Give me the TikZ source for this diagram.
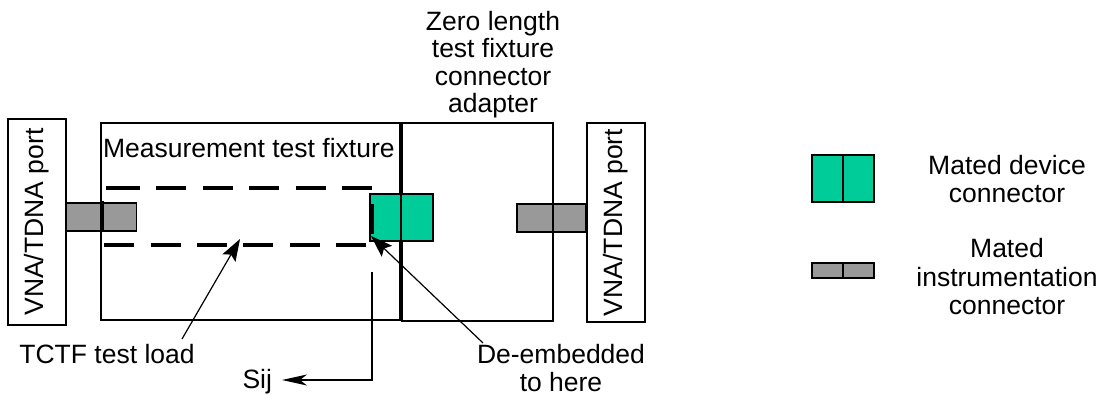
\documentclass[tikz,border=0pt]{standalone}
\usepackage{fontspec}
\setmainfont{Liberation Sans}
\usetikzlibrary{arrows.meta}
\definecolor{devgreen}{HTML}{00CC99}
\definecolor{instgray}{HTML}{999999}
\begin{document}
\begin{tikzpicture}[x=1pt,y=-1pt,
  font=\fontsize{26.5}{27.6}\selectfont,
  box/.style={draw, line width=1.2pt, inner sep=0pt, outer sep=0pt},
  conn/.style={draw, line width=1.4pt, inner sep=0pt, outer sep=0pt},
  txt/.style={inner sep=0pt, outer sep=0pt, align=center},
  divider/.style={line width=1.8pt},
  loadbox/.style={line width=3.2pt, dash pattern=on 30pt off 16.4pt},
  arr/.style={line width=1.2pt, -{Stealth[length=22pt,width=15pt,inset=4pt]}},
  sijarr/.style={line width=1.3pt, -{Stealth[length=25pt,width=11pt,inset=7pt]}}
]
\useasboundingbox (0,0) rectangle (1107,395);
\fill[white] (0,0) rectangle (1107,395);

% main boxes
\node (vnaL) [box, rotate=90, minimum width=206pt, minimum height=58pt] at (37,222) {VNA/TDNA port};
\node (vnaR) [box, rotate=90, minimum width=199pt, minimum height=58pt] at (616,222.5) {VNA/TDNA port};
\node (fixture) [box, minimum width=299pt, minimum height=197pt] at (250.5,221.5) {};
\node (adapter) [box, minimum width=151pt, minimum height=198pt] at (477.5,222) {};
\node (fixlbl) [txt, anchor=base west] at (103,158) {Measurement test fixture};

% connectors
\node (conL) [conn, fill=instgray, minimum width=70pt, minimum height=28pt] at (101.5,217) {};
\node (conD) [conn, fill=devgreen, minimum width=63pt, minimum height=47pt] at (401.5,217.5) {};
\draw[divider] (401,194) -- (401,241);
\node (conR) [conn, fill=instgray, minimum width=69pt, minimum height=28pt] at (551.5,218) {};
\draw[divider] (553,204) -- (553,232);

% test load (dashed outline)
\coordinate (loadNW) at (102,188);
\coordinate (loadSE) at (372,245);
\draw[loadbox] (110,188) -- (loadSE |- loadNW) -- (loadSE) -- (loadNW |- loadSE) -- (loadNW) -- cycle;

% labels
\node (zero) [txt, anchor=north] at (493,11) {Zero length\\test fixture\\connector\\adapter};
\node (tctf) [txt, anchor=base] at (107,363) {TCTF test load};
\node (sij) [txt, anchor=base east] at (272,388) {Sij};
\node (deemb) [txt, anchor=north] at (561,344.5) {De-embedded\\to here};

% arrows
\coordinate (tctfTail) at (182,339);
\coordinate (loadPt) at (240,239);
\draw[arr] (tctfTail) -- (loadPt);
\coordinate (deembTail) at (483,343);
\coordinate (refPlane) at (371,236);
\draw[arr] (deembTail) -- (refPlane);
\coordinate (sijTop) at (372,272);
\coordinate (sijCorner) at (372,380);
\coordinate (sijTip) at (282,380);
\draw[sijarr] (sijTop) -- (sijCorner) -- (sijTip);

% legend
\node (legD) [conn, fill=devgreen, minimum width=62pt, minimum height=47pt] at (843,178.5) {};
\draw[divider] (legD.north) -- (legD.south);
\node (legI) [conn, fill=instgray, minimum width=62pt, minimum height=15pt] at (843,270.5) {};
\draw[divider] (legI.north) -- (legI.south);
\node (legDtxt) [txt, anchor=north] at (1007,155.7) {Mated device\\connector};
\node (legItxt) [txt, anchor=north, font=\fontsize{26.5}{28.5}\selectfont] at (1007,238.7) {Mated\\instrumentation\\connector};
\end{tikzpicture}
\end{document}
